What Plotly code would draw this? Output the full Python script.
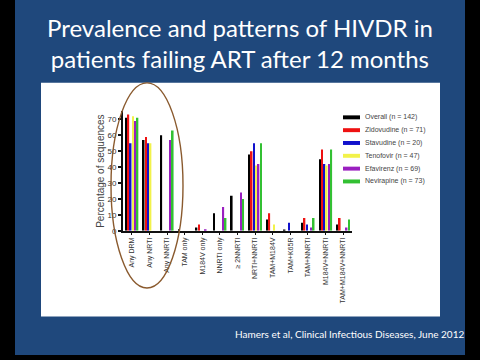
import plotly.graph_objects as go
import numpy as np

categories = ["Any DRM", "Any NRTI", "Any NNRTI", "TAM only", "M184V only", "NNRTI only",
              "≥ 2NNRTI", "NRTI+NNRTI", "TAM+M184V", "TAM+K65R", "TAM+NNRTI",
              "M184V+NNRTI", "TAM+M184V+NNRTI"]
series_names = ["Overall (n = 142)", "Zidovudine (n = 71)", "Stavudine (n = 20)",
                "Tenofovir (n = 47)", "Efavirenz (n = 69)", "Nevirapine (n = 73)"]
overall    = [71, 57, 60, 1, 2, 11, 22, 48, 7, 0.7, 5, 45, 4]
zidovudine = [73, 59, 0, 0, 4, 0, 0, 50, 11, 0, 8, 51, 8]
stavudine  = [55, 55, 0, 0, 0, 0, 0, 55, 0, 5, 4, 42, 0]
tenofovir  = [72, 55, 0, 0, 0, 0, 0, 41, 4, 0, 0, 41, 0]
efavirenz  = [69, 0, 57, 0, 1, 15, 24, 42, 0, 0, 2, 42, 2]
nevirapine = [71, 0, 63, 0, 0, 8, 20, 55, 0, 0, 8, 51, 7]
series_values = [overall, zidovudine, stavudine, tenofovir, efavirenz, nevirapine]
colors = ["#000000", "#EE1111", "#1111CC", "#F2F24A", "#9A1FC0", "#33C033"]

W, H = 480, 360
def px(x): return x / W
def py(y): return (H - y) / H

fig = go.Figure()
for name, vals, c in zip(series_names, series_values, colors):
    fig.add_trace(go.Bar(x=categories, y=vals, name=name, marker_color=c,
                         marker_line_width=0, showlegend=False))

shapes = [
    dict(type="rect", xref="paper", yref="paper", x0=px(15), x1=px(465), y0=0, y1=1,
         fillcolor="#1F487C", line_width=0, layer="below"),
    dict(type="rect", xref="paper", yref="paper", x0=px(41), x1=px(440), y0=py(321), y1=py(84),
         fillcolor="#FFFFFF", line_width=0, layer="below"),
    dict(type="circle", xref="paper", yref="paper", x0=px(111), x1=px(183), y0=py(292), y1=py(84),
         line=dict(color="#8A5A2E", width=1.4)),
]
annotations = [
    dict(text="Prevalence and patterns of HIVDR in<br>patients failing ART after 12 months",
         x=0.5, y=py(44), xref="paper", yref="paper",
         showarrow=False, font=dict(family="Lato", size=24, color="white"), yanchor="middle"),
    dict(text="Hamers et al, Clinical Infectious Diseases, June 2012", x=px(466), y=py(339),
         xref="paper", yref="paper", xanchor="right", yanchor="middle", showarrow=False,
         font=dict(family="Lato", size=10, color="white")),
]
# legend
leg_y = [119, 132, 145, 158, 171, 184]
for name, c, yy in zip(series_names, colors, leg_y):
    shapes.append(dict(type="rect", xref="paper", yref="paper", x0=px(343), x1=px(360),
                       y0=py(yy + 2), y1=py(yy - 2), fillcolor=c, line_width=0))
    annotations.append(dict(text=name, x=px(363), y=py(yy), xref="paper", yref="paper",
                            xanchor="left", yanchor="middle", showarrow=False,
                            font=dict(family="Liberation Sans", size=7, color="#444")))

fig.update_layout(
    width=W, height=H, margin=dict(l=0, r=0, t=0, b=0),
    paper_bgcolor="#000000", plot_bgcolor="rgba(0,0,0,0)",
    barmode="group", bargap=0.22, bargroupgap=0.3,
    shapes=shapes, annotations=annotations,
    xaxis=dict(domain=[px(123), px(352)], range=[-0.5, 12.5], showline=True, linecolor="#111",
               linewidth=2, tickangle=-90, ticks="outside", ticklen=2, tickcolor="#111",
               tickfont=dict(family="Liberation Sans", size=7, color="#333"), showgrid=False,
               zeroline=False),
    yaxis=dict(domain=[py(234), py(113)], range=[0, 75], showline=True, linecolor="#111",
               linewidth=2, ticks="outside", ticklen=3, tickwidth=1.5, tickcolor="#111",
               tickvals=[0, 10, 20, 30, 40, 50, 60, 70], showgrid=False, zeroline=False,
               tickfont=dict(family="Liberation Sans", size=8, color="#333"),
               title=dict(text="Percentage of sequences", standoff=1,
                          font=dict(family="Liberation Sans", size=10, color="#444"))),
)
fig.write_html("out.html")
